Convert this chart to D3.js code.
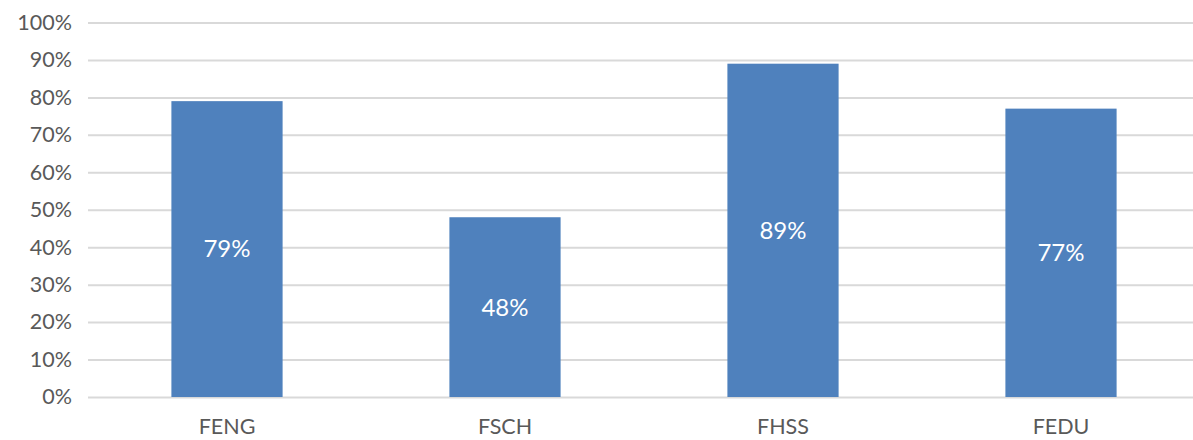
<!DOCTYPE html>
<html>
<head>
<meta charset="utf-8">
<script src="https://cdn.jsdelivr.net/npm/d3@7"></script>
<style>
  body { margin: 0; background: #fff; }
  text { font-family: Lato, "Open Sans", sans-serif; }
</style>
</head>
<body>
<svg id="chart" width="1193" height="440"></svg>
<script>
const faculties = ["FENG", "FSCH", "FHSS", "FEDU"];
const rates = [0.79, 0.48, 0.89, 0.77];
const yTicks = [0, 0.1, 0.2, 0.3, 0.4, 0.5, 0.6, 0.7, 0.8, 0.9, 1.0];

var svg = d3.select("#chart"),
  margin = { top: 22.5, right: -7, bottom: 43, left: 88 },
  width = +svg.attr("width") - margin.left - margin.right,
  height = +svg.attr("height") - margin.top - margin.bottom;

var data = faculties.map((f, i) => ({ name: f, value: rates[i] }));

var x = d3.scaleBand().range([0, width]).paddingInner(0.6).paddingOuter(0.3),
  y = d3.scaleLinear().range([height, 0]);

x.domain(faculties);
y.domain([0, 1]);

var g = svg.append("g")
  .attr("transform", "translate(" + margin.left + "," + margin.top + ")");

// gridlines
g.append("g")
  .attr("class", "grid")
  .call(d3.axisLeft(y).tickValues(yTicks).tickSize(-width).tickFormat(""))
  .call((s) => s.select(".domain").remove())
  .call((s) => s.selectAll("line").attr("stroke", "#d9d9d9").attr("stroke-width", 2));

// y labels
g.append("g")
  .attr("class", "axis axis--y")
  .call(d3.axisLeft(y).tickValues(yTicks).tickSize(0).tickPadding(16).tickFormat(d3.format(".0%")))
  .call((s) => s.select(".domain").remove())
  .call((s) => s.selectAll("text")
    .attr("fill", "#595959")
    .style("font-size", "21.5px"));

// x labels
g.append("g")
  .attr("class", "axis axis--x")
  .attr("transform", "translate(0," + height + ")")
  .call(d3.axisBottom(x).tickSize(0).tickPadding(22))
  .call((s) => s.select(".domain").remove())
  .call((s) => s.selectAll("text")
    .attr("fill", "#595959")
    .style("font-size", "21.5px"));

g.selectAll(".bar")
  .data(data)
  .enter()
  .append("rect")
  .attr("class", "bar")
  .attr("fill", "#4f81bd")
  .attr("x", (d) => x(d.name))
  .attr("y", (d) => y(d.value))
  .attr("width", x.bandwidth())
  .attr("height", (d) => height - y(d.value));

g.selectAll(".label")
  .data(data)
  .enter()
  .append("text")
  .attr("class", "label")
  .attr("x", (d) => x(d.name) + x.bandwidth() / 2)
  .attr("y", (d) => (y(d.value) + height) / 2)
  .attr("dy", "0.35em")
  .attr("text-anchor", "middle")
  .attr("fill", "#ffffff")
  .style("font-size", "24px")
  .text((d) => d3.format(".0%")(d.value));
</script>
</body>
</html>
